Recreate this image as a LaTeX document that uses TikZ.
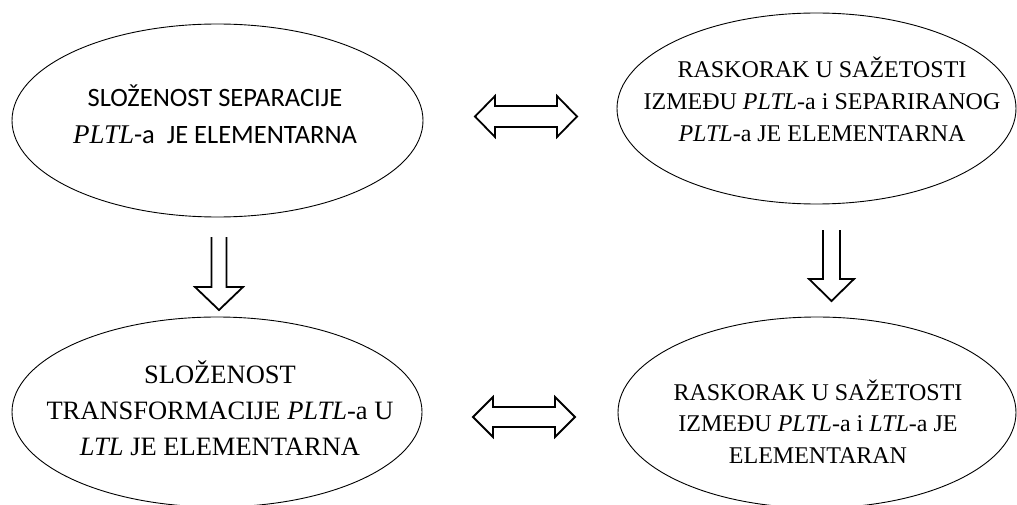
\documentclass[tikz,border=0pt]{standalone}
\usepackage{fontspec}
\setmainfont{Liberation Serif}
\newfontfamily\calib{Carlito}
\usetikzlibrary{shapes.geometric}
\begin{document}
\begin{tikzpicture}[x=1pt,y=-1pt,
  oval/.style={draw,ellipse,line width=0.9pt,inner sep=0pt},
  blockarrow/.style={draw,line width=1.8pt,line join=miter},
  lbl/.style={align=center,inner sep=0pt,anchor=base}]
\useasboundingbox (0,0) rectangle (1017,505);
% ellipses
\node[oval,minimum width=411pt,minimum height=193pt] (e1) at (217.5,120.5) {};
\node[oval,minimum width=399pt,minimum height=191pt] (e2) at (816.5,108.5) {};
\node[oval,minimum width=410pt,minimum height=190pt] (e3) at (217,412) {};
\node[oval,minimum width=398pt,minimum height=191pt] (e4) at (817,412.5) {};
% texts (anchor base = baseline of last line)
\node[lbl,font=\calib\fontsize{26.5}{37}\selectfont] (t1) at (215,144)
  {SLOŽENOST SEPARACIJE\\{\rmfamily\itshape\fontsize{27}{37}\selectfont PLTL}-a\ \ JE ELEMENTARNA};
\node[lbl,font=\fontsize{24}{32}\selectfont] (t2) at (822,142)
  {RASKORAK U SAŽETOSTI\\IZMEĐU \textit{PLTL}-a i SEPARIRANOG\\\textit{PLTL}-a JE ELEMENTARNA};
\node[lbl,font=\fontsize{26.5}{36}\selectfont] (t3) at (220,455)
  {SLOŽENOST\\TRANSFORMACIJE \textit{PLTL}-a U\\\textit{LTL} JE ELEMENTARNA};
\node[lbl,font=\fontsize{24}{31.5}\selectfont] (t4) at (818,463)
  {RASKORAK U SAŽETOSTI\\IZMEĐU \textit{PLTL}-a i \textit{LTL}-a JE\\ELEMENTARAN};
% horizontal double arrows
\draw[blockarrow] (475,116.5) -- (495,96) -- (495,106) -- (557,106) -- (557,96) -- (577,116.5)
  -- (557,137) -- (557,127) -- (495,127) -- (495,137) -- cycle;
\draw[blockarrow] (473,417) -- (493,397) -- (493,407) -- (555,407) -- (555,397) -- (575,417)
  -- (555,437) -- (555,427) -- (493,427) -- (493,437) -- cycle;
% vertical arrows (open top)
\draw[blockarrow] (211.5,237) -- (211.5,287) -- (195,287) -- (219,310) -- (243,287) -- (226.5,287) -- (226.5,237);
\draw[blockarrow] (823,230) -- (823,279) -- (809,279) -- (831.5,301) -- (854,279) -- (840,279) -- (840,230);
\end{tikzpicture}
\end{document}
